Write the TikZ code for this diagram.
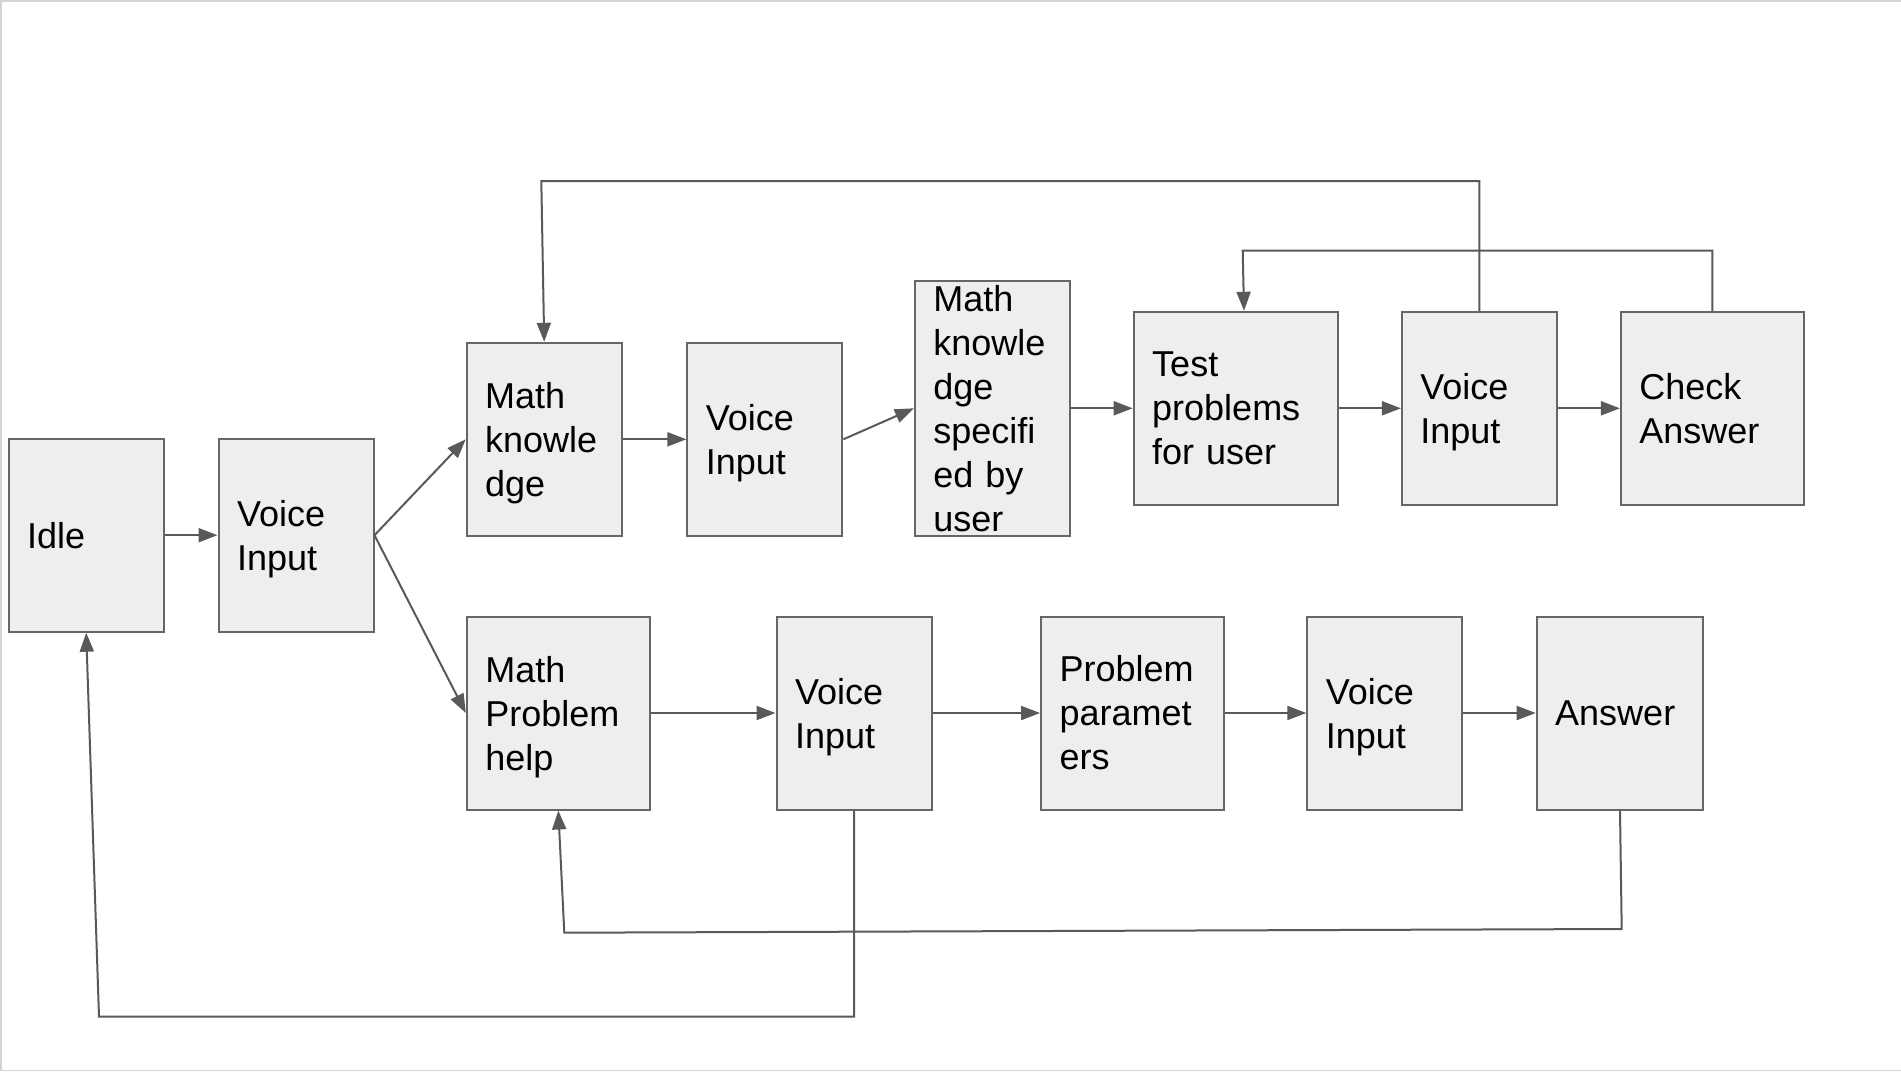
\documentclass[tikz,border=0pt]{standalone}
\usepackage{fontspec}
\setmainfont{Liberation Sans}
\usetikzlibrary{arrows.meta}
\definecolor{linec}{HTML}{595959}
\definecolor{boxc}{HTML}{666666}
\definecolor{boxfill}{HTML}{EEEEEE}
\definecolor{framec}{HTML}{D4D4D4}
\begin{document}
\begin{tikzpicture}[x=1pt,y=-1pt,
  box/.style={draw=boxc, fill=boxfill, line width=2pt, inner xsep=18.5pt, inner ysep=0pt,
    align=left, minimum height=193pt, font=\fontsize{36pt}{44pt}\selectfont},
  tw155/.style={text width=118pt},
  tw167/.style={text width=129.6pt},
  tw183/.style={text width=146pt},
  tw204/.style={text width=167pt},
  conn/.style={draw=linec, line width=2pt, -{Triangle[length=19pt,width=14pt]}}]
\useasboundingbox (0,0) rectangle (1901,1071);
\draw[framec, line width=1.5pt] (1901,0.75) -- (0.75,0.75) -- (0.75,1070.25) -- (1901,1070.25);

\node[box, tw155] (idle) at (86.2,535.2) {Idle};
\node[box, tw155] (vi1) at (296,535.2) {Voice\\\smash{Input}};
\node[box, tw155] (mk) at (544.2,439.3) {Math\\knowle\\\smash{dge}};
\node[box, tw155] (vi2) at (764.9,439.3) {Voice\\\smash{Input}};
\node[box, tw155, minimum height=254.7pt] (mks) at (992.4,408.3) {Math\\knowle\\dge\\specifi\\ed by\\user};
\node[box, tw204] (test) at (1235.7,408.3) {Test\\problems\\for user};
\node[box, tw155] (vi3) at (1479.4,408.3) {Voice\\\smash{Input}};
\node[box, tw183] (check) at (1712.4,408.3) {Check\\Answer};
\node[box, tw183] (mph) at (558.3,713) {Math\\Problem\\\smash{help}};
\node[box, tw155] (vi4) at (854,713) {Voice\\\smash{Input}};
\node[box, tw183] (pp) at (1132.6,713) {Problem\\paramet\\ers};
\node[box, tw155] (vi5) at (1384.8,713) {Voice\\\smash{Input}};
\node[box, tw167] (ans) at (1620,713) {Answer};

\draw[conn] (idle.east) -- (vi1.west);
\draw[conn] (vi1.east) -- (mk.west);
\draw[conn] (vi1.east) -- (mph.west);
\draw[conn] (mk.east) -- (vi2.west);
\draw[conn] (vi2.east) -- (mks.west);
\draw[conn] (mks.east) -- (test.west);
\draw[conn] (test.east) -- (vi3.west);
\draw[conn] (vi3.east) -- (check.west);
\draw[conn] (mph.east) -- (vi4.west);
\draw[conn] (vi4.east) -- (pp.west);
\draw[conn] (pp.east) -- (vi5.west);
\draw[conn] (vi5.east) -- (ans.west);

\coordinate (t1) at (1479.4,181);
\coordinate (t2) at (541.3,181);
\draw[conn] (vi3.north) -- (t1) -- (t2) -- (mk.north);
\coordinate (t3) at (1712.4,250.5);
\coordinate (t4) at (1242.7,250.5);
\draw[conn] (check.north) -- (t3) -- (t4) -- ([xshift=8.3pt]test.north);
\coordinate (b1) at (1621.7,929);
\coordinate (b2) at (564.3,932.7);
\draw[conn] (ans.south) -- (b1) -- (b2) -- (mph.south);
\coordinate (b3) at (854,1016.7);
\coordinate (b4) at (99,1016.7);
\draw[conn] (vi4.south) -- (b3) -- (b4) -- (idle.south);
\end{tikzpicture}
\end{document}
